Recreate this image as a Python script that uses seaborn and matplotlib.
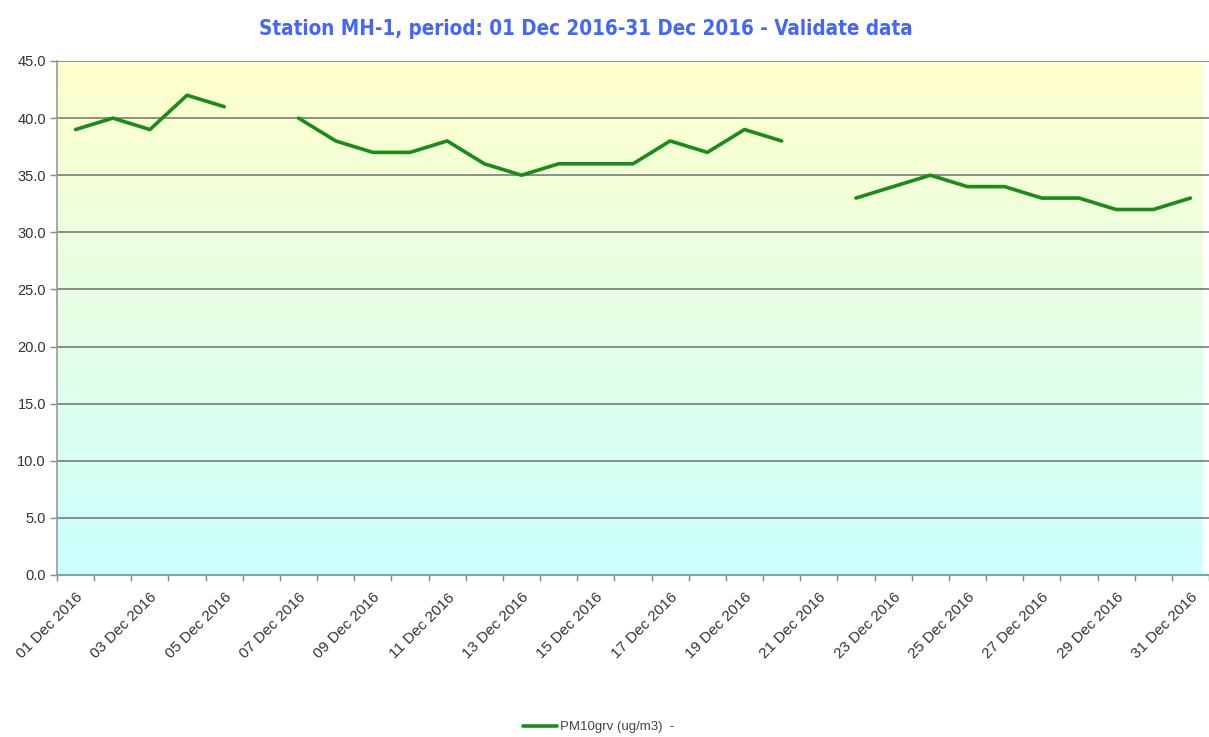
import numpy as np
import pandas as pd
import seaborn as sns
import matplotlib.pyplot as plt
from matplotlib.colors import LinearSegmentedColormap
from matplotlib.lines import Line2D

# daily PM10 values, Dec 2016 (nan = no validated data)
days = list(range(1, 32))
pm10 = [39, 40, 39, 42, 41, np.nan, 40, 38, 37, 37, 38, 36, 35, 36, 36, 36,
        38, 37, 39, 38, np.nan, 33, 34, 35, 34, 34, 33, 33, 32, 32, 33]
day_labels = ["%02d Dec 2016" % d for d in days]
yticks = [0, 5, 10, 15, 20, 25, 30, 35, 40, 45]

df = pd.DataFrame({"idx": np.arange(len(days)), "val": pm10})
# split into segments so gaps stay open
df["seg"] = df["val"].isna().cumsum()
df = df.dropna()

sns.set_style("white")
plt.rcParams['font.family'] = ['Liberation Sans', 'DejaVu Sans']

fig = plt.figure(figsize=(12.09, 7.37), dpi=100)
ax = fig.add_axes([57 / 1209, 1 - 575 / 737, 1 - 57 / 1209, (575 - 61) / 737])

# yellow -> cyan background gradient
cmap = LinearSegmentedColormap.from_list("bg", ["#CCFFFF", "#FFFFCC"])
grad = np.linspace(0, 1, 256).reshape(-1, 1)
ax.imshow(grad, aspect="auto", cmap=cmap, origin="lower",
          extent=[-0.5, 30.32, 0, 45], zorder=0)

for y in yticks[1:]:
    ax.axhline(y, color="#7a7a7a", lw=1.2, zorder=1)

sns.lineplot(data=df, x="idx", y="val", units="seg", estimator=None,
             color="#1a8c1a", lw=2.6, ax=ax, zorder=3)

ax.set_xlim(-0.5, 30.32)
ax.set_ylim(0, 45)
ax.set_xlabel("")
ax.set_ylabel("")

ax.set_xticks(np.arange(0, 31, 2))
ax.set_xticklabels(day_labels[::2], rotation=45, ha="right", va="top",
                   rotation_mode="anchor", fontsize=11, color="#333333")
ax.set_xticks(np.arange(-0.5, 31, 1), minor=True)
ax.tick_params(axis="x", which="major", length=0, pad=11)
ax.tick_params(axis="x", which="minor", length=4, width=1, color="#888888",
               direction="out", bottom=True)

ax.set_yticks(yticks)
ax.set_yticklabels(["%.1f" % v for v in yticks], fontsize=10.5, color="#333333")
ax.tick_params(axis="y", length=5, width=1, color="#888888", direction="out",
               left=True, pad=3)

for s in ["top", "right"]:
    ax.spines[s].set_visible(False)
ax.spines["left"].set_color("#999999")
ax.spines["left"].set_linewidth(1.2)
ax.spines["bottom"].set_color("#7aa6a6")
ax.spines["bottom"].set_linewidth(1.5)

fig.text(0.485, 1 - 29 / 737,
         "Station MH-1, period: 01 Dec 2016-31 Dec 2016 - Validate data",
         ha="center", va="center", fontsize=14.8, fontweight="bold",
         color="#4466ff", family=["DejaVu Sans"], fontstretch="condensed")

handle = Line2D([], [], color="#1a8c1a", lw=2.6)
fig.legend([handle], ["PM10grv (ug/m3)  -"], loc="center",
           bbox_to_anchor=(0.495, 1 - 727 / 737), frameon=False,
           fontsize=9.5, handlelength=2.6, handletextpad=0.2,
           labelcolor="#444444")

fig.savefig("out.png", dpi=100)
